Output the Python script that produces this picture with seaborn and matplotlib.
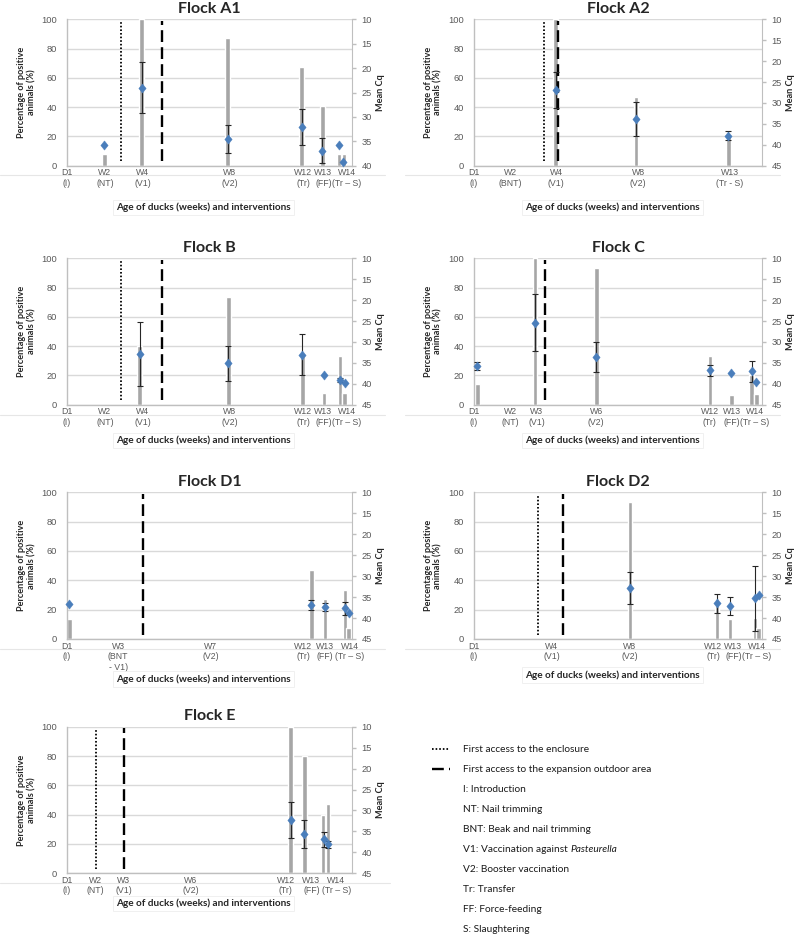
import matplotlib
matplotlib.use("Agg")
import matplotlib.pyplot as plt
from matplotlib.lines import Line2D
import pandas as pd
import seaborn as sns

sns.set_style("white")
plt.rcParams['font.family'] = ['Liberation Sans', 'DejaVu Sans']

LABEL_FONT = ['Lato', 'DejaVu Sans']
BLUE = '#4a7ebb'
BAR = '#a6a6a6'
GRID = '#d9d9d9'
TICK = '#595959'
AXIS = '#bfbfbf'

# ---- data, x = age in days ----
# Flock A1
a1_ticks = [1, 14.2, 27.3, 57.6, 83.1, 90.1, 98.3]
a1_labels = ['D1\n(I)', 'W2\n(NT)', 'W4\n(V1)', 'W8\n(V2)', 'W12\n(Tr)', 'W13\n(FF)', 'W14\n(Tr – S)']
a1_bar_day = [14.0, 26.9, 56.8, 82.5, 89.7, 95.5, 97.2]
a1_bar_pct = [7.7, 100, 87.5, 67.5, 40.5, 7.7, 7.7]
a1_cq_day = [14.0, 26.9, 56.8, 82.5, 89.7, 95.5, 97.0]
a1_cq = [35.8, 24.0, 34.5, 32.1, 36.9, 35.8, 39.2]
a1_cq_sd = [0, 5.3, 2.9, 3.75, 2.55, 0, 0]
a1_access = [19.9, 34.1]

# Flock A2
a2_ticks = [1, 13.4, 29.2, 57.4, 89.0]
a2_labels = ['D1\n(I)', 'W2\n(BNT)', 'W4\n(V1)', 'W8\n(V2)', 'W13\n(Tr - S)']
a2_bar_day = [29.1, 56.7, 88.4]
a2_bar_pct = [100, 47, 20]
a2_cq_day = [29.1, 56.7, 88.4]
a2_cq = [26.9, 33.8, 37.8]
a2_cq_sd = [4.4, 4.0, 1.0]
a2_access = [25.2, 30.0]

# Flock B
b_ticks = [1, 14.2, 27.3, 57.6, 83.1, 90.1, 98.3]
b_labels = ['D1\n(I)', 'W2\n(NT)', 'W4\n(V1)', 'W8\n(V2)', 'W12\n(Tr)', 'W13\n(FF)', 'W14\n(Tr – S)']
b_bar_day = [26.2, 57.0, 82.7, 90.3, 95.8, 97.4]
b_bar_pct = [40, 73.3, 33.3, 7.7, 33.3, 7.7]
b_cq_day = [26.2, 57.0, 82.7, 90.3, 95.8, 97.4]
b_cq = [32.9, 35.1, 33.0, 38.0, 39.0, 39.8]
b_cq_sd = [7.7, 4.2, 4.9, 0, 0.5, 0]
b_access = [19.9, 34.1]

# Flock C
c_ticks = [1, 13.4, 22.6, 43.0, 82.1, 89.6, 97.5]
c_labels = ['D1\n(I)', 'W2\n(NT)', 'W3\n(V1)', 'W6\n(V2)', 'W12\n(Tr)', 'W13\n(FF)', 'W14\n(Tr – S)']
c_bar_day = [2.2, 22.0, 43.0, 82.1, 89.5, 96.5, 98.0]
c_bar_pct = [13.8, 100, 93.3, 33.3, 6.7, 20, 7]
c_cq_day = [2.2, 22.0, 43.0, 82.1, 89.5, 96.5, 98.0]
c_cq = [35.8, 25.4, 33.6, 36.8, 37.5, 37.0, 39.6]
c_cq_sd = [1.0, 6.8, 3.5, 1.3, 0, 2.5, 0]
c_access = [None, 25.5]

# Flock D1
d1_ticks = [1, 18.8, 50.9, 83.1, 90.6, 99.3]
d1_labels = ['D1\n(I)', 'W3\n(BNT\n- V1)', 'W7\n(V2)', 'W12\n(Tr)', 'W13\n(FF)', 'W14\n(Tr – S)']
d1_bar_day = [1.8, 86.0, 90.6, 97.6, 98.8]
d1_bar_pct = [13.3, 47, 27, 33.3, 7.7]
d1_cq_day = [1.8, 85.9, 90.6, 97.6, 98.8]
d1_cq = [36.6, 36.9, 37.4, 37.7, 38.9]
d1_cq_sd = [0, 1.2, 1.0, 1.5, 0]
d1_access = [None, 27.3]

# Flock D2
d2_ticks = [1, 27.7, 54.6, 83.3, 90.2, 98.2]
d2_labels = ['D1\n(I)', 'W4\n(V1)', 'W8\n(V2)', 'W12\n(Tr)', 'W13\n(FF)', 'W14\n(Tr – S)']
d2_bar_day = [54.6, 84.5, 89.0, 97.6, 98.8]
d2_bar_pct = [93.3, 27, 13.3, 14, 7.7]
d2_cq_day = [54.6, 84.5, 89.0, 97.6, 98.8]
d2_cq = [32.75, 36.5, 37.1, 35.3, 34.5]
d2_cq_sd = [3.8, 2.3, 2.2, 7.7, 0]
d2_access = [23.0, 31.7]

# Flock E
e_ticks = [1, 10.8, 20.6, 44.0, 77.0, 85.9, 94.6]
e_labels = ['D1\n(I)', 'W2\n(NT)', 'W3\n(V1)', 'W6\n(V2)', 'W12\n(Tr)', 'W13\n(FF)', 'W14\n(Tr – S)']
e_bar_day = [78.7, 83.4, 89.9, 91.7]
e_bar_pct = [100, 80, 40, 47]
e_cq_day = [78.7, 83.4, 90.2, 91.7]
e_cq = [32.3, 35.6, 36.9, 38.1]
e_cq_sd = [4.3, 3.3, 1.8, 0.8]
e_access = [11.0, 20.9]

legend_notes = ['I: Introduction', 'NT: Nail trimming', 'BNT: Beak and nail trimming',
                'V1: Vaccination against', 'V2: Booster vaccination', 'Tr: Transfer',
                'FF: Force-feeding', 'S: Slaughtering']

W, H = 800, 935
fig = plt.figure(figsize=(8, 9.35), dpi=100)

DIAMOND = [(0, 1), (0.8, 0), (0, -1), (-0.8, 0), (0, 1)]
DOTTED = (0, (0.9, 1.1))
DASHED = (0, (5, 2.2))


def add_axes_px(left, top, right, bottom):
    return fig.add_axes([left / W, 1 - bottom / H, (right - left) / W, (bottom - top) / H])


def draw_flock(box, name, ticks, labels, bar_day, bar_pct, cq_day, cq, cq_sd, access,
               cq_max=45, xlab_gap=36):
    ax = add_axes_px(*box)
    height = box[3] - box[1]
    ax.set_axisbelow(True)
    ax.bar(bar_day, bar_pct, width=1.6, color=BAR, zorder=2)
    if access[0] is not None:
        ax.axvline(access[0], ymin=0.03, ymax=0.98, color='black', lw=1.3, ls=DOTTED, zorder=3)
    if access[1] is not None:
        ax.axvline(access[1], ymin=0.03, ymax=0.99, color='black', lw=1.7, ls=DASHED, zorder=3)
    ax.set_xlim(1, 100)
    ax.set_ylim(0, 100)
    ax.set_yticks(range(0, 101, 20))
    ax.set_xticks(ticks)
    ax.set_xticklabels(labels, linespacing=1.2)
    ax.yaxis.grid(True, color=GRID, lw=1)
    ax.xaxis.grid(False)
    ax.tick_params(axis='x', length=0, pad=2, labelsize=6.3, labelcolor=TICK)
    ax.tick_params(axis='y', length=0, pad=7, labelsize=6.7, labelcolor=TICK)
    for s in ['top', 'right']:
        ax.spines[s].set_visible(False)
    for s in ['left', 'bottom']:
        ax.spines[s].set_color(AXIS)
        ax.spines[s].set_linewidth(1)

    ax2 = ax.twinx()
    ax2.set_ylim(cq_max, 10)
    ax2.set_yticks(range(10, cq_max + 1, 5))
    ax2.tick_params(axis='y', length=3, width=1, color=AXIS, pad=4, labelsize=6.7, labelcolor=TICK)
    for s in ['top', 'left', 'bottom']:
        ax2.spines[s].set_visible(False)
    ax2.spines['right'].set_color(AXIS)
    ax2.grid(False)

    df = pd.DataFrame({'day': cq_day, 'cq': cq, 'sd': cq_sd})
    err = df[df['sd'] > 0]
    ax2.errorbar(err['day'], err['cq'], yerr=err['sd'], fmt='none', ecolor='#262626',
                 elinewidth=0.8, capsize=2, capthick=0.8, zorder=3)
    sns.scatterplot(data=df, x='day', y='cq', ax=ax2, marker=DIAMOND, s=44, color=BLUE,
                    edgecolor=BLUE, linewidth=0.3, zorder=4, legend=False, clip_on=False)
    ax2.set_xlabel('')
    ax2.set_ylabel('')
    ax2.set_xlim(1, 100)

    ax.text(0.5, 1 + 6.6 / height, f'Flock {name}', transform=ax.transAxes, ha='center',
            va='baseline', fontsize=11.5, fontweight='bold', family=LABEL_FONT)
    ax.text(-0.142, 0.5, 'Percentage of positive\nanimals (%)', transform=ax.transAxes,
            rotation=90, ha='center', va='center', fontsize=6.6, fontweight='bold',
            family=LABEL_FONT, linespacing=1.15)
    ax.text(1.1, 0.5, 'Mean Cq', transform=ax.transAxes, rotation=90, ha='center',
            va='center', fontsize=6.6, fontweight='bold', family=LABEL_FONT)
    ax.text(0.48, -xlab_gap / height, 'Age of ducks (weeks) and interventions',
            transform=ax.transAxes, ha='center', va='center', fontsize=7.2, fontweight='bold',
            family=LABEL_FONT, zorder=5,
            bbox=dict(boxstyle='square,pad=0.3', fc='none', ec='#eeeeee', lw=0.6))
    return ax


LEFT = (67, 352)
RIGHT = (474, 762)
ROWS = [(19.3, 165.7), (258.3, 404.7), (492.3, 639.0), (726.7, 873.3)]

draw_flock((LEFT[0], ROWS[0][0], LEFT[1], ROWS[0][1]), 'A1', a1_ticks, a1_labels, a1_bar_day,
           a1_bar_pct, a1_cq_day, a1_cq, a1_cq_sd, a1_access, cq_max=40, xlab_gap=41.6)
draw_flock((RIGHT[0], ROWS[0][0], RIGHT[1], ROWS[0][1]), 'A2', a2_ticks, a2_labels, a2_bar_day,
           a2_bar_pct, a2_cq_day, a2_cq, a2_cq_sd, a2_access, xlab_gap=41.6)
draw_flock((LEFT[0], ROWS[1][0], LEFT[1], ROWS[1][1]), 'B', b_ticks, b_labels, b_bar_day,
           b_bar_pct, b_cq_day, b_cq, b_cq_sd, b_access)
draw_flock((RIGHT[0], ROWS[1][0], RIGHT[1], ROWS[1][1]), 'C', c_ticks, c_labels, c_bar_day,
           c_bar_pct, c_cq_day, c_cq, c_cq_sd, c_access)
draw_flock((LEFT[0], ROWS[2][0], LEFT[1], ROWS[2][1]), 'D1', d1_ticks, d1_labels, d1_bar_day,
           d1_bar_pct, d1_cq_day, d1_cq, d1_cq_sd, d1_access, xlab_gap=40)
draw_flock((RIGHT[0], ROWS[2][0], RIGHT[1], ROWS[2][1]), 'D2', d2_ticks, d2_labels, d2_bar_day,
           d2_bar_pct, d2_cq_day, d2_cq, d2_cq_sd, d2_access)
draw_flock((LEFT[0], ROWS[3][0], LEFT[1], ROWS[3][1]), 'E', e_ticks, e_labels, e_bar_day,
           e_bar_pct, e_cq_day, e_cq, e_cq_sd, e_access, xlab_gap=30)

# faint chart borders between the tick label lines
for y in [175, 415, 649]:
    fig.add_artist(Line2D([0, 385 / W], [1 - y / H] * 2, color='#e6e6e6', lw=0.8, zorder=0))
    fig.add_artist(Line2D([405 / W, 780 / W], [1 - y / H] * 2, color='#e6e6e6', lw=0.8, zorder=0))
fig.add_artist(Line2D([0, 390 / W], [1 - 883 / H] * 2, color='#e6e6e6', lw=0.8, zorder=0))

# legend block
ys = [749 + 20 * i for i in range(10)]
fig.add_artist(Line2D([432 / W, 450 / W], [1 - ys[0] / H] * 2, color='black', lw=1.3, ls=DOTTED))
fig.add_artist(Line2D([432 / W, 450 / W], [1 - ys[1] / H] * 2, color='black', lw=1.7, ls=DASHED))
txt_kw = dict(fontsize=7.3, family=LABEL_FONT, va='center', color='#1a1a1a')
fig.text(463 / W, 1 - ys[0] / H, 'First access to the enclosure', **txt_kw)
fig.text(463 / W, 1 - ys[1] / H, 'First access to the expansion outdoor area', **txt_kw)
renderer = fig.canvas.get_renderer()
for y, note in zip(ys[2:], legend_notes):
    t = fig.text(463 / W, 1 - y / H, note, **txt_kw)
    if note.startswith('V1'):
        bb = t.get_window_extent(renderer=renderer)
        fig.text((bb.x1 + 2.8) / W, 1 - y / H, 'Pasteurella', style='italic', **txt_kw)

fig.savefig('out.png', dpi=100)
